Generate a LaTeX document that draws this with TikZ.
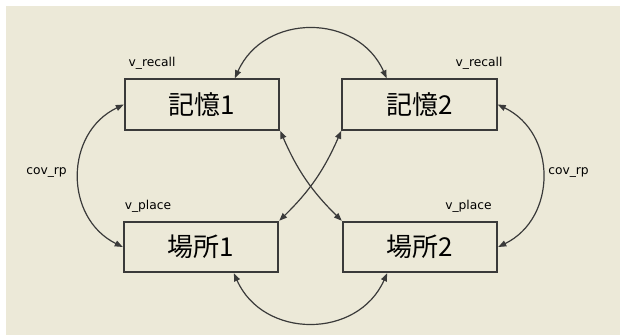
\documentclass[tikz,border=0pt]{standalone}
\usepackage{fontspec}
\newfontfamily\cjk{Noto Sans CJK JP}
\newfontfamily\lblfont{DejaVu Sans}
\usetikzlibrary{arrows.meta,calc}
\definecolor{amosbg}{HTML}{ECE9D8}
\definecolor{amosline}{HTML}{3A3A3A}
\tikzset{var/.style={draw=amosline,line width=1.3pt,fill=amosbg,minimum width=116pt,minimum height=38pt,inner sep=0pt,font=\cjk\fontsize{19.5}{20}\selectfont},
  lbl/.style={font=\lblfont\fontsize{9.2}{10}\selectfont,inner sep=0pt},
  cov/.style={<->,draw=amosline,line width=0.9pt}}

\begin{document}
\begin{tikzpicture}[x=0.75pt,y=-0.75pt,>={Triangle[length=6pt,width=4.5pt]}]
      \useasboundingbox (0,0) rectangle (620,335);
      \fill[white] (0,0) rectangle (620,335);
      \fill[amosbg] (6,6) rectangle (620,335);
      \node[var] (kioku1) at (202,104.5) {記憶1};
      \node[var] (kioku2) at (419.5,104.5) {記憶2};
      \node[var] (basho1) at (201,247) {場所1};
      \node[var] (basho2) at (420,247) {場所2};
      \node[lbl] (vrecall1) at (152,63) {v\_recall};
      \node[lbl] (vrecall2) at (479,63) {v\_recall};
      \node[lbl] (vplace1) at (148,206) {v\_place};
      \node[lbl] (vplace2) at (468.5,206) {v\_place};
      \node[lbl] (covrp1) at (46.5,173) {cov\_rp};
      \node[lbl] (covrp2) at (568.5,173) {cov\_rp};
      \draw[cov] ($(kioku1.north west)!0.71!(kioku1.north east)$) to[bend left=66,looseness=1.21] ($(kioku2.north west)!0.29!(kioku2.north east)$);
      \draw[cov] ($(basho1.south west)!0.71!(basho1.south east)$) to[bend right=66,looseness=1.21] ($(basho2.south west)!0.29!(basho2.south east)$);
      \draw[cov] (kioku1.west) to[bend right=64,looseness=1.18] (basho1.west);
      \draw[cov] (kioku2.east) to[bend left=64,looseness=1.18] (basho2.east);
      \draw[cov] (kioku1.south east) to[bend right=11] (basho2.north west);
      \draw[cov] (kioku2.south west) to[bend left=11] (basho1.north east);
    \end{tikzpicture}
\end{document}
